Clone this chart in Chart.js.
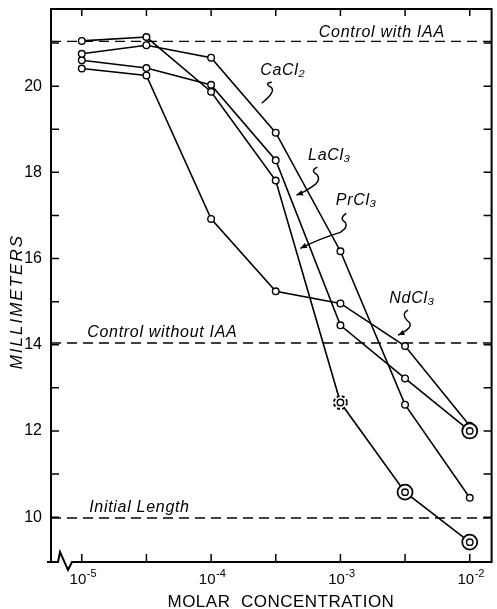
<!DOCTYPE html>
<html>
<head>
<meta charset="utf-8">
<script src="https://cdn.jsdelivr.net/npm/chart.js@4.4.0/dist/chart.umd.min.js"></script>
<style>
  body { margin: 0; background: #fff; }
  canvas { display: block; }
</style>
</head>
<body>
<canvas id="chart" width="497" height="609"></canvas>
<script>
// molar concentrations, half-decade steps
var concentrations = [1e-5, 3.16e-5, 1e-4, 3.16e-4, 1e-3, 3.16e-3, 1e-2];

// length in mm
var caCl2 = [20.75, 20.95, 20.66, 18.92, 16.17, 12.61, 10.45];
var laCl3 = [20.60, 20.42, 20.03, 18.28, 14.45, 13.22, 12.00];
var prCl3 = [21.05, 21.14, 19.87, 17.81, 12.66, 10.58, 9.42];
var ndCl3 = [20.41, 20.25, 16.92, 15.24, 14.96, 13.97, 12.12];

// marker kind per point: o plain, d double ring, b broken ring
var laMarkers = ['o', 'o', 'o', 'o', 'o', 'o', 'd'];
var prMarkers = ['o', 'o', 'o', 'o', 'b', 'd', 'd'];

var controlWithIAA = 21.04;
var controlWithoutIAA = 14.04;
var initialLength = 9.98;

var xTickExps = [-5, -4.5, -4, -3.5, -3, -2.5, -2];
var xLabelExps = [-5, -4, -3, -2];
var yTicks = [10, 11, 12, 13, 14, 15, 16, 17, 18, 19, 20, 21];
var yTickLabels = ['10', '12', '14', '16', '18', '20'];

var xMin = Math.pow(10, -5.238);
var xMax = Math.pow(10, -1.831);
var FONT = 'Liberation Sans';

function series(label, values, markers) {
    return {
        label: label,
        data: concentrations.map(function (c, i) { return { x: c, y: values[i] }; }),
        markers: markers,
        borderColor: '#000',
        borderWidth: 1.6,
        pointRadius: 3.3,
        pointBorderWidth: 1.4,
        pointBorderColor: '#000',
        pointBackgroundColor: '#fff',
        tension: 0,
        fill: false
    };
}

function refLine(label, level) {
    return {
        label: label,
        data: [{ x: xMin, y: level }, { x: xMax, y: level }],
        borderColor: '#000',
        borderWidth: 1.4,
        borderDash: [10, 6],
        pointRadius: 0,
        fill: false
    };
}

// text notes: anchor in data units, squiggle in pixels from the anchor
var notes = [
    { text: 'Control with IAA', lx: -2.68, y: 21.25 },
    { text: 'Control without IAA', lx: -4.377, y: 14.29 },
    { text: 'Initial Length', lx: -4.554, y: 10.23 },
    { text: 'CaCl₂', lx: -3.446, y: 20.37,
      path: [[-11, 12], [-19, 13, -12, 17], [-6, 21, -21, 33]] },
    { text: 'LaCl₃', lx: -3.085, y: 18.40,
      path: [[-12, 12], [-20, 15, -12, 20], [-8, 26, -18, 32], [-25, 37, -33, 40]], arrow: true },
    { text: 'PrCl₃', lx: -2.877, y: 17.35,
      path: [[-10, 13], [-18, 18, -11, 22], [-8, 27, -16, 32], [-36, 38, -56, 48]], arrow: true },
    { text: 'NdCl₃', lx: -2.446, y: 15.08,
      path: [[-4, 12], [-12, 16, -3, 24], [2, 29, -14, 37]], arrow: true }
];

var frame = {
    id: 'frame',
    beforeDatasetsDraw: function (chart) {
        var ctx = chart.ctx, a = chart.chartArea;
        var xs = chart.scales.x, ys = chart.scales.y;
        var L = a.left, R = a.right, T = a.top, B = a.bottom;
        ctx.save();
        ctx.strokeStyle = '#000';
        ctx.lineWidth = 2;
        ctx.beginPath();
        ctx.moveTo(L, B);
        ctx.lineTo(L, T);
        ctx.lineTo(R, T);
        ctx.lineTo(R, B);
        ctx.lineTo(L + 21, B);
        ctx.lineTo(L + 17, B + 8);
        ctx.lineTo(L + 9, B - 10);
        ctx.lineTo(L + 7, B);
        ctx.lineTo(L - 4, B);
        ctx.stroke();
        ctx.lineWidth = 1.5;
        ctx.beginPath();
        yTicks.forEach(function (v) {
            var py = ys.getPixelForValue(v);
            ctx.moveTo(L, py); ctx.lineTo(L + 8, py);
            ctx.moveTo(R, py); ctx.lineTo(R - 8, py);
        });
        xTickExps.forEach(function (e) {
            var px = xs.getPixelForValue(Math.pow(10, e));
            ctx.moveTo(px, B); ctx.lineTo(px, B - 8);
            ctx.moveTo(px, T); ctx.lineTo(px, T + 7);
        });
        ctx.stroke();

        // x labels with raised exponent
        ctx.fillStyle = '#000';
        ctx.textBaseline = 'alphabetic';
        ctx.textAlign = 'left';
        xLabelExps.forEach(function (e) {
            var px = xs.getPixelForValue(Math.pow(10, e));
            ctx.font = '15px "' + FONT + '"';
            var wb = ctx.measureText('10').width;
            ctx.font = '11px "' + FONT + '"';
            var sup = String(e);
            var ws = ctx.measureText(sup).width;
            var x0 = px - (wb + ws) / 2 + 1;
            ctx.font = '15px "' + FONT + '"';
            ctx.fillText('10', x0, B + 22);
            ctx.font = '11px "' + FONT + '"';
            ctx.fillText(sup, x0 + wb + 0.5, B + 15);
        });

        // axis titles
        ctx.textAlign = 'center';
        ctx.textBaseline = 'middle';
        ctx.font = '17px "' + FONT + '"';
        ctx.letterSpacing = '0.5px';
        ctx.fillText('MOLAR  CONCENTRATION', xs.getPixelForValue(Math.pow(10, -3.46)), B + 40);
        ctx.save();
        ctx.translate(17, ys.getPixelForValue(15.0));
        ctx.rotate(-Math.PI / 2);
        ctx.font = 'italic 17px "' + FONT + '"';
        ctx.letterSpacing = '2px';
        ctx.fillText('MILLIMETERS', 0, 0);
        ctx.restore();
        ctx.restore();
    },
    afterDatasetsDraw: function (chart) {
        var ctx = chart.ctx;
        var xs = chart.scales.x, ys = chart.scales.y;
        ctx.save();
        ctx.fillStyle = '#000';
        ctx.strokeStyle = '#000';

        // ringed markers on top of the plain circles
        chart.data.datasets.forEach(function (ds, di) {
            if (!ds.markers) return;
            var pts = chart.getDatasetMeta(di).data;
            ds.markers.forEach(function (m, i) {
                if (m == 'o') return;
                var p = pts[i];
                ctx.lineWidth = 1.8;
                ctx.fillStyle = '#fff';
                ctx.beginPath();
                ctx.arc(p.x, p.y, m == 'd' ? 7.5 : 6.5, 0, Math.PI * 2);
                ctx.fill();
                ctx.setLineDash(m == 'b' ? [3, 2.2] : []);
                ctx.stroke();
                ctx.setLineDash([]);
                ctx.lineWidth = 1.4;
                ctx.beginPath();
                ctx.arc(p.x, p.y, 3.2, 0, Math.PI * 2);
                ctx.stroke();
            });
        });

        ctx.fillStyle = '#000';
        ctx.font = 'italic 16px "' + FONT + '"';
        ctx.letterSpacing = '0.7px';
        ctx.textAlign = 'center';
        ctx.textBaseline = 'middle';
        notes.forEach(function (n) {
            var cx = xs.getPixelForValue(Math.pow(10, n.lx));
            var cy = ys.getPixelForValue(n.y);
            ctx.fillText(n.text, cx, cy);
            if (!n.path) return;
            ctx.lineWidth = 1.4;
            ctx.beginPath();
            ctx.moveTo(cx + n.path[0][0], cy + n.path[0][1]);
            for (var i = 1; i < n.path.length; i++) {
                var p = n.path[i];
                ctx.quadraticCurveTo(cx + p[0], cy + p[1], cx + p[2], cy + p[3]);
            }
            ctx.stroke();
            if (n.arrow) {
                var last = n.path[n.path.length - 1];
                var tx = cx + last[2], ty = cy + last[3];
                var ang = Math.atan2(last[3] - last[1], last[2] - last[0]);
                ctx.beginPath();
                ctx.moveTo(tx, ty);
                ctx.lineTo(tx - 7 * Math.cos(ang - 0.4), ty - 7 * Math.sin(ang - 0.4));
                ctx.lineTo(tx - 7 * Math.cos(ang + 0.4), ty - 7 * Math.sin(ang + 0.4));
                ctx.closePath();
                ctx.fill();
            }
        });
        ctx.restore();
    }
};

var chart = new Chart(document.getElementById('chart').getContext('2d'), {
    type: 'line',
    data: {
        datasets: [
            series('PrCl3', prCl3, prMarkers),
            series('CaCl2', caCl2),
            series('LaCl3', laCl3, laMarkers),
            series('NdCl3', ndCl3),
            refLine('Control with IAA', controlWithIAA),
            refLine('Control without IAA', controlWithoutIAA),
            refLine('Initial Length', initialLength)
        ]
    },
    options: {
        responsive: false,
        animation: false,
        devicePixelRatio: 1,
        layout: { padding: { top: 9, right: 3, left: 0, bottom: 0 } },
        plugins: { legend: { display: false }, tooltip: { enabled: false } },
        scales: {
            x: {
                type: 'logarithmic',
                min: xMin,
                max: xMax,
                afterBuildTicks: function (s) {
                    s.ticks = xTickExps.map(function (e) { return { value: Math.pow(10, e) }; });
                },
                afterFit: function (s) {
                    s.height = 47;
                    s.paddingLeft = 0;
                    s.paddingRight = 0;
                },
                grid: { display: false, drawTicks: false },
                border: { display: false },
                ticks: { display: false }
            },
            y: {
                min: 8.96,
                max: 21.79,
                afterBuildTicks: function (s) {
                    s.ticks = yTicks.map(function (v) { return { value: v }; });
                },
                afterFit: function (s) {
                    s.width = 51;
                    s.paddingTop = 0;
                    s.paddingBottom = 0;
                },
                grid: { display: false, drawTicks: false },
                border: { display: false },
                ticks: {
                    autoSkip: false,
                    padding: 9,
                    color: '#000',
                    font: { family: FONT, size: 16 },
                    callback: function (v) {
                        return yTickLabels.indexOf(String(v)) >= 0 ? String(v) : '';
                    }
                }
            }
        }
    },
    plugins: [frame]
});
</script>
</body>
</html>
